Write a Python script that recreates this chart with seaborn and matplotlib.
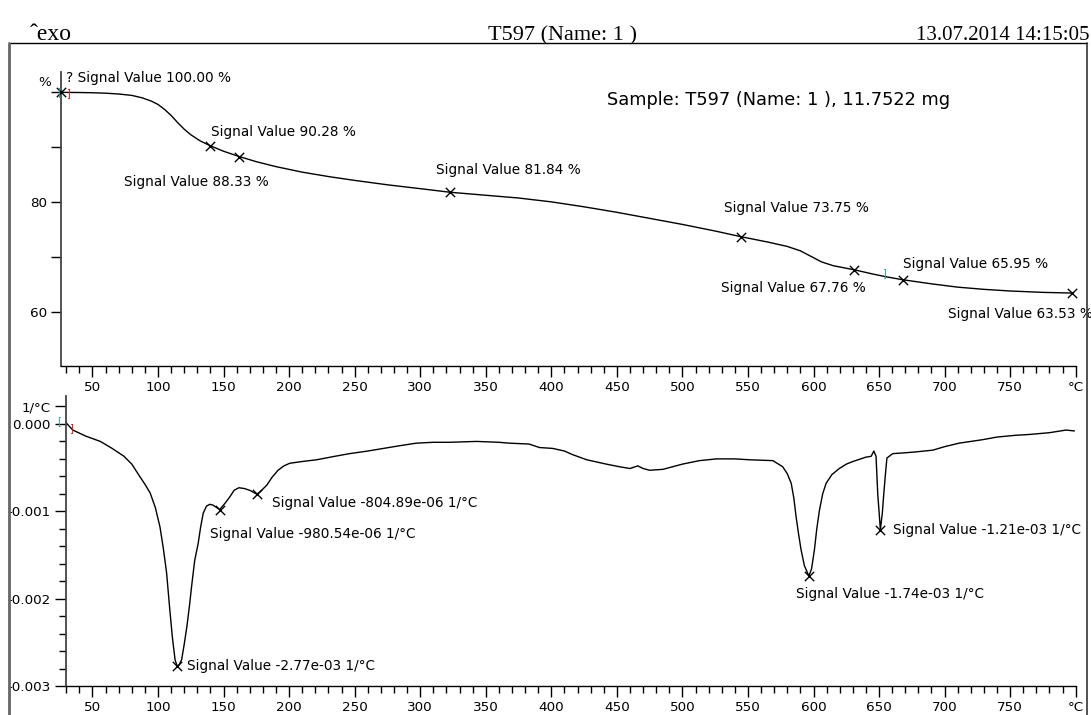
import numpy as np
import pandas as pd
import matplotlib
matplotlib.use("Agg")
import matplotlib.pyplot as plt
import seaborn as sns
from matplotlib.lines import Line2D
from matplotlib.ticker import FixedLocator, MultipleLocator

# ---------------- data ----------------
tg_temp = [26, 40, 50, 60, 70, 80, 88, 95, 100, 105, 110, 115, 120, 125, 132, 140,
           150, 162, 175, 190, 210, 230, 250, 275, 300, 323, 350, 375, 400, 425,
           450, 475, 500, 525, 545, 565, 580, 590, 598, 606, 615, 631, 645, 655,
           668, 690, 710, 730, 750, 775, 797]
tg_mass = [100.0, 99.97, 99.93, 99.85, 99.7, 99.45, 99.0, 98.4, 97.8, 96.9, 95.8,
           94.5, 93.3, 92.3, 91.2, 90.28, 89.3, 88.33, 87.4, 86.5, 85.5, 84.7,
           84.0, 83.2, 82.5, 81.84, 81.3, 80.8, 80.1, 79.2, 78.2, 77.1, 76.0,
           74.8, 73.75, 72.8, 72.0, 71.2, 70.2, 69.2, 68.5, 67.76, 67.0, 66.5,
           65.95, 65.2, 64.6, 64.2, 63.9, 63.65, 63.53]

dtg_temp = [29.5, 35, 45, 56, 65, 74, 80, 86, 90, 94, 98, 101.5, 104, 106.5, 109,
            111, 113, 114.5, 116, 118, 120, 122, 124, 125.6, 128, 130.6, 132.5,
            134.5, 137, 139.5, 142, 145, 147, 151, 155, 158, 161.7, 166, 170,
            175.5, 179, 183, 187, 191.6, 196, 200.5, 210, 221, 235, 246, 260,
            272, 284, 297, 310, 322, 343, 360, 368, 383, 391, 401, 410, 416, 427,
            442, 452, 460, 466, 470, 475, 485, 500, 513, 526, 540, 551, 569,
            576.5, 580, 583, 585, 586.7, 588.5, 590.5, 593, 596.4, 598.5, 600.7,
            602.5, 604.5, 607, 609.6, 614, 619.7, 625, 630, 640, 644, 646, 647.7,
            649, 651, 652.5, 653.6, 655, 656, 660.4, 670, 678, 691, 700, 711,
            720, 729, 740, 754, 765, 780, 792.6, 799]
dtg_rate_milli = [0.02, -0.07, -0.14, -0.20, -0.28, -0.37, -0.46, -0.60, -0.69,
                  -0.79, -0.96, -1.18, -1.42, -1.70, -2.13, -2.45, -2.70, -2.77,
                  -2.76, -2.70, -2.52, -2.32, -2.08, -1.86, -1.56, -1.37, -1.18,
                  -1.02, -0.94, -0.92, -0.93, -0.96, -0.98, -0.91, -0.83, -0.76,
                  -0.73, -0.74, -0.76, -0.805, -0.76, -0.70, -0.61, -0.53, -0.48,
                  -0.45, -0.43, -0.41, -0.37, -0.34, -0.31, -0.28, -0.25, -0.22,
                  -0.21, -0.21, -0.20, -0.21, -0.22, -0.23, -0.27, -0.28, -0.31,
                  -0.35, -0.41, -0.46, -0.49, -0.51, -0.48, -0.51, -0.53, -0.52,
                  -0.46, -0.42, -0.40, -0.40, -0.41, -0.42, -0.49, -0.57, -0.68,
                  -0.85, -1.06, -1.25, -1.44, -1.62, -1.74, -1.66, -1.44, -1.20,
                  -0.99, -0.80, -0.68, -0.58, -0.51, -0.46, -0.43, -0.38, -0.37,
                  -0.31, -0.37, -0.80, -1.21, -1.02, -0.80, -0.55, -0.39, -0.34,
                  -0.33, -0.32, -0.30, -0.26, -0.22, -0.20, -0.18, -0.15, -0.13,
                  -0.12, -0.10, -0.07, -0.08]

tg_mark_temp = [26, 140, 162, 323, 545, 631, 668, 797]
tg_mark_val = [100.00, 90.28, 88.33, 81.84, 73.75, 67.76, 65.95, 63.53]
tg_mark_text = ["? Signal Value 100.00 %", "Signal Value 90.28 %",
                "Signal Value 88.33 %", "Signal Value 81.84 %",
                "Signal Value 73.75 %", "Signal Value 67.76 %",
                "Signal Value 65.95 %", "Signal Value 63.53 %"]

dtg_mark_temp = [114.5, 147, 175.5, 596.4, 651]
dtg_mark_val = [-2.77e-3, -980.54e-6, -804.89e-6, -1.74e-3, -1.21e-3]
dtg_mark_text = ["Signal Value -2.77e-03 1/\u00b0C", "Signal Value -980.54e-06 1/\u00b0C",
                 "Signal Value -804.89e-06 1/\u00b0C", "Signal Value -1.74e-03 1/\u00b0C",
                 "Signal Value -1.21e-03 1/\u00b0C"]

x_major = [50, 100, 150, 200, 250, 300, 350, 400, 450, 500, 550, 600, 650, 700, 750, 800]
x_major_labels = ["50", "100", "150", "200", "250", "300", "350", "400", "450",
                  "500", "550", "600", "650", "700", "750", "\u00b0C"]
tg_yticks = [60, 70, 80, 90, 100]
tg_ylabels = ["60", "", "80", "", ""]
dtg_yticks = [0.0002, 0.0, -0.001, -0.002, -0.003]
dtg_ylabels = ["1/\u00b0C", "0.000", "-0.001", "-0.002", "-0.003"]

header_left = "\u02c6exo"
header_mid = "T597 (Name: 1 )"
header_right = "13.07.2014 14:15:05"
sample_text = "Sample: T597 (Name: 1 ), 11.7522 mg"

# ---------------- figure ----------------
sns.set_theme(style="white")
plt.rcParams["font.family"] = ["DejaVu Sans"]
plt.rcParams["text.color"] = "black"
plt.rcParams["xtick.color"] = "black"
plt.rcParams["ytick.color"] = "black"
plt.rcParams["axes.labelcolor"] = "black"
W, H = 1091, 715
fig = plt.figure(figsize=(W / 100, H / 100), dpi=100)

def fx(px):
    return px / W

def fy(py):
    return 1 - py / H

ax1 = fig.add_axes([fx(61), fy(366), fx(1075.7) - fx(61), (366 - 72) / H])
ax2 = fig.add_axes([fx(66), fy(686), fx(1075.7) - fx(66), (686 - 396) / H])

tg_df = pd.DataFrame({"T": tg_temp, "m": tg_mass})
dtg_df = pd.DataFrame({"T": dtg_temp, "r": np.array(dtg_rate_milli) * 1e-3})

sns.lineplot(data=tg_df, x="T", y="m", ax=ax1, color="black", lw=1.0, sort=False)
sns.lineplot(data=dtg_df, x="T", y="r", ax=ax2, color="black", lw=1.0, sort=False)

sns.scatterplot(x=tg_mark_temp, y=tg_mark_val, ax=ax1, marker="x", color="black",
                s=45, linewidth=1.0, zorder=5, clip_on=False)
sns.scatterplot(x=dtg_mark_temp, y=dtg_mark_val, ax=ax2, marker="x", color="black",
                s=45, linewidth=1.0, zorder=5, clip_on=False)

ax1.set_xlim(26, 800)
ax1.set_ylim(50.27, 103.7)
ax2.set_xlim(29.8, 800)
ax2.set_ylim(-0.003, 0.00032)

for ax in (ax1, ax2):
    ax.set_xlabel("")
    ax.set_ylabel("")
    ax.set_facecolor("white")
    for s in ("top", "right"):
        ax.spines[s].set_visible(False)
    ax.spines["bottom"].set_color("black")
    ax.spines["bottom"].set_linewidth(1.0)
    ax.spines["left"].set_color("#444444")
    ax.spines["left"].set_linewidth(1.3)
    ax.xaxis.set_major_locator(FixedLocator(x_major))
    ax.set_xticklabels(x_major_labels)
    ax.xaxis.set_minor_locator(MultipleLocator(10))
    ax.tick_params(axis="both", which="major", direction="out", length=8, width=1,
                   color="black", labelcolor="black", labelsize=9.7, pad=3,
                   bottom=True, left=True)
    ax.tick_params(axis="both", which="minor", direction="out", length=5, width=1,
                   color="black", bottom=True, left=True)
    ax.grid(False)

ax1.yaxis.set_major_locator(FixedLocator(tg_yticks))
ax1.set_yticklabels(tg_ylabels)
ax2.yaxis.set_major_locator(FixedLocator(dtg_yticks))
ax2.set_yticklabels(dtg_ylabels)
ax2.yaxis.set_minor_locator(MultipleLocator(0.0002))
ax1.tick_params(axis="y", which="major", length=7)

# marker annotations (offsets in pixels)
tg_offsets = [(5, 14), (1, 14), (-115, -25), (-14, 22),
              (-17, 29), (-133, -18), (0, 16), (-124, -21)]
for t, v, txt, (dx, dy) in zip(tg_mark_temp, tg_mark_val, tg_mark_text, tg_offsets):
    ax1.annotate(txt, xy=(t, v), xytext=(dx, dy), textcoords="offset pixels",
                 ha="left", va="center", fontsize=9.8, color="black", annotation_clip=False)

dtg_offsets = [(10, 0), (-10, -24), (15, -9), (-13, -18), (13, 0)]
for t, v, txt, (dx, dy) in zip(dtg_mark_temp, dtg_mark_val, dtg_mark_text, dtg_offsets):
    ax2.annotate(txt, xy=(t, v), xytext=(dx, dy), textcoords="offset pixels",
                 ha="left", va="center", fontsize=9.8, color="black", annotation_clip=False)

# unit label for % axis
fig.text(fx(51), fy(82), "%", ha="right", va="center", fontsize=9.7)
fig.text(fx(607), fy(100), sample_text, ha="left", va="center", fontsize=12.8)

# small range brackets
fig.text(fx(66), fy(93), "]", color="red", fontsize=7, ha="left", va="center")
fig.text(fx(57), fy(92), "[", color="#2a9d9d", fontsize=7, ha="left", va="center")
fig.text(fx(882), fy(273), "]", color="#2a9d9d", fontsize=7, ha="left", va="center")
fig.text(fx(57), fy(421), "[", color="#2a9d9d", fontsize=7, ha="left", va="center")
fig.text(fx(69), fy(428), "]", color="red", fontsize=7, ha="left", va="center")

# header
serif = ["Liberation Serif", "DejaVu Serif"]
fig.text(fx(30), fy(40), header_left, ha="left", va="baseline", fontsize=17, family=serif)
fig.text(fx(562), fy(40), header_mid, ha="center", va="baseline", fontsize=16, family=serif)
fig.text(fx(1089), fy(40), header_right, ha="right", va="baseline", fontsize=15, family=serif)

# frame lines
fig.add_artist(Line2D([fx(9), fx(1087)], [fy(43), fy(43)], color="black", lw=1.0))
fig.add_artist(Line2D([fx(9), fx(9)], [fy(43), fy(715)], color="#666666", lw=2.0))
fig.add_artist(Line2D([fx(1087), fx(1087)], [fy(43), fy(715)], color="#333333", lw=1.2))

fig.savefig("out.png", dpi=100)
